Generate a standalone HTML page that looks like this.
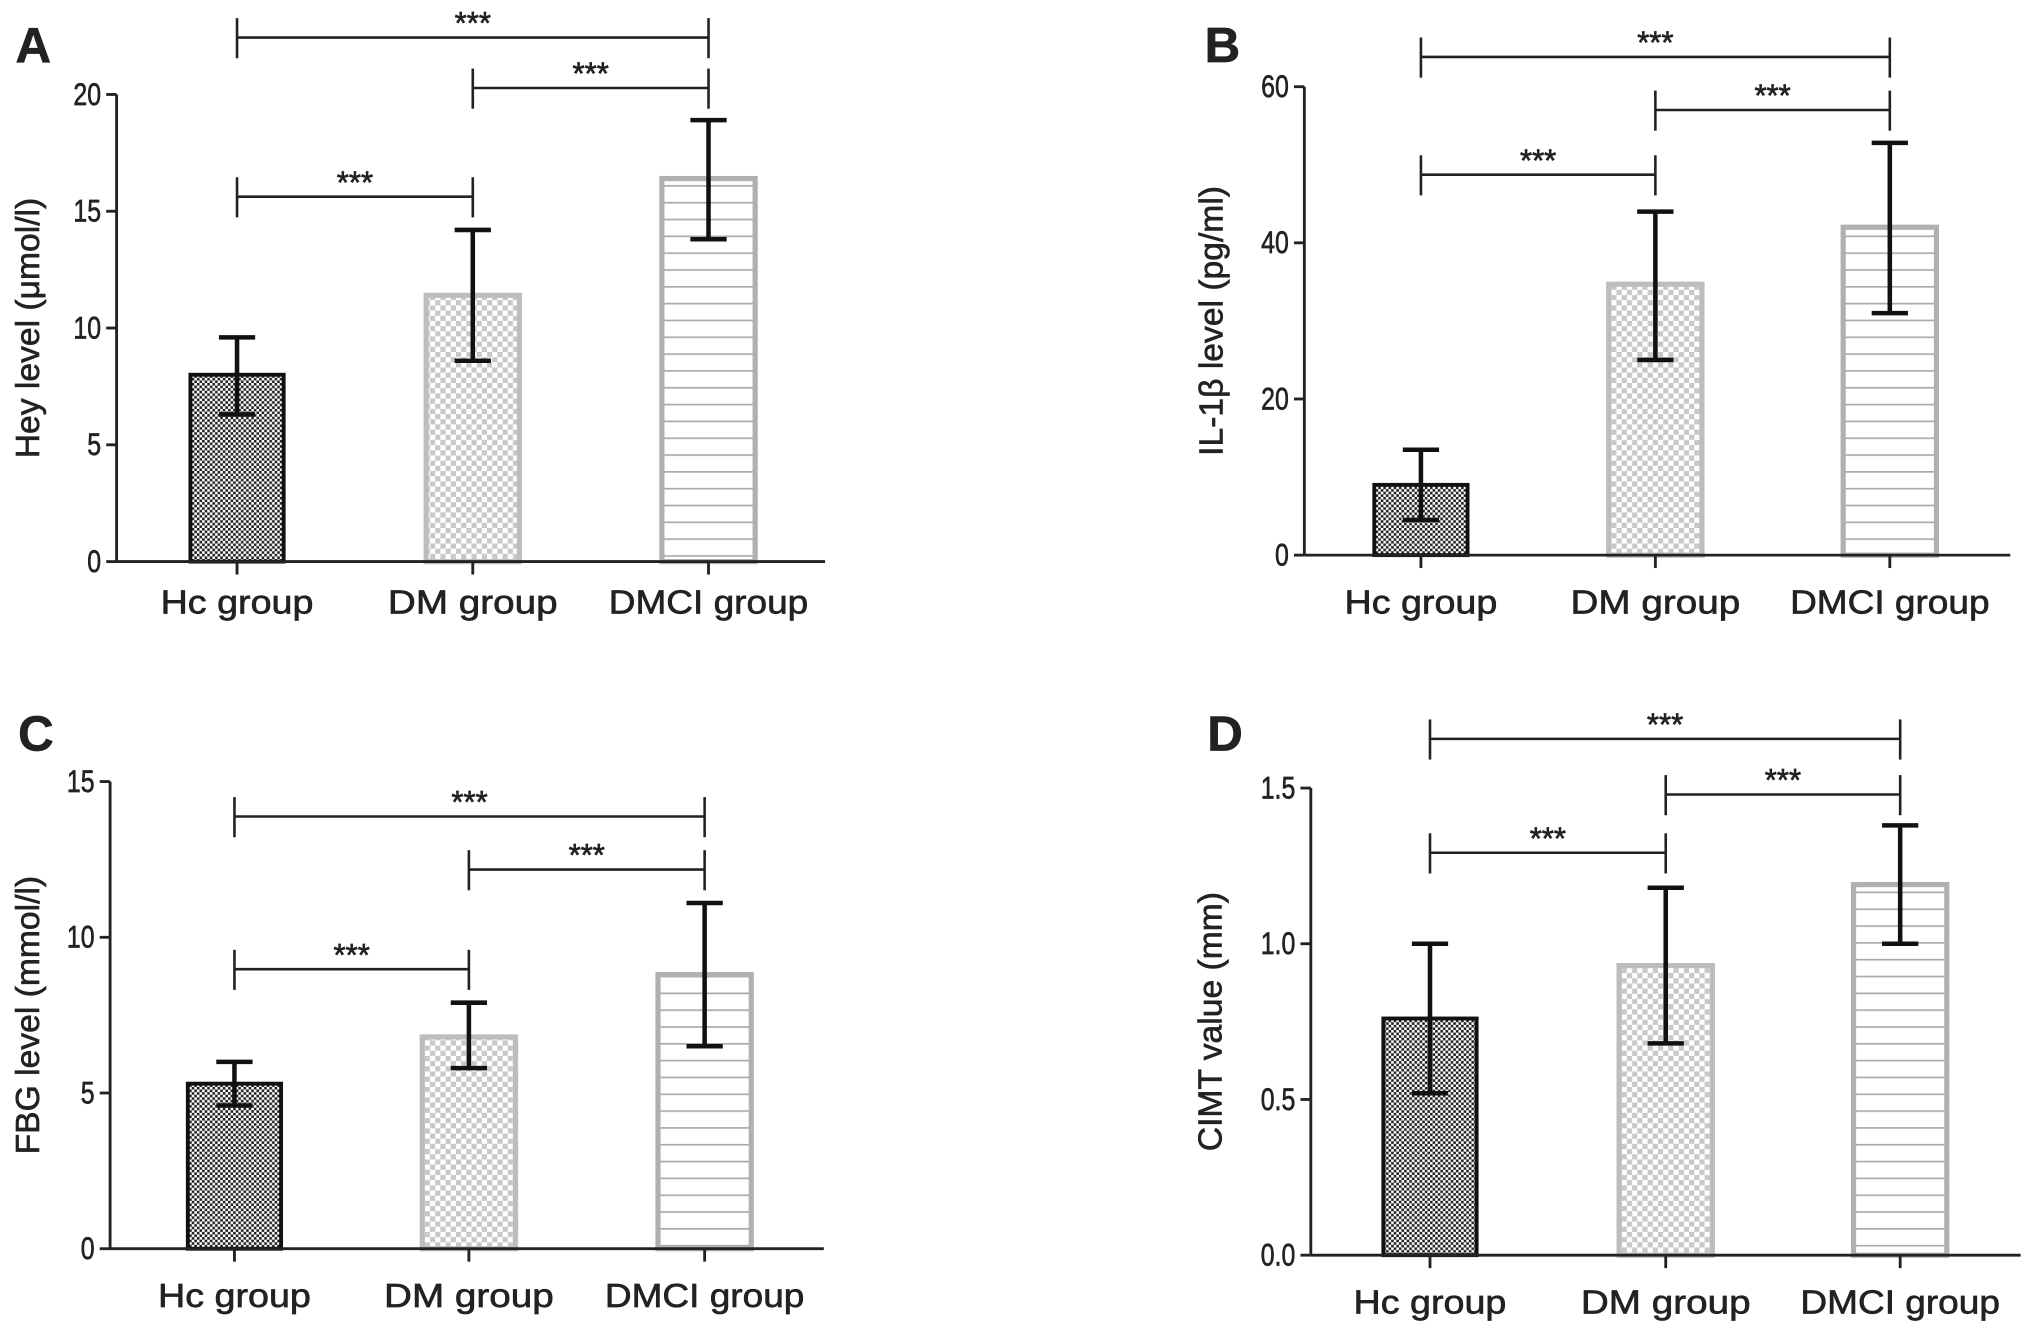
<!DOCTYPE html>
<html><head><meta charset="utf-8"><style>
html,body{margin:0;padding:0;background:#fff;}
svg{display:block;}
text{font-family:"Liberation Sans",sans-serif;fill:#222;stroke:#222;stroke-width:0.5;}
</style></head><body>
<svg id="fig" width="2031" height="1338" viewBox="0 0 1568 1034" preserveAspectRatio="none" xmlns="http://www.w3.org/2000/svg">
<defs>
<pattern id="pDark" width="4" height="4" patternUnits="userSpaceOnUse"><rect width="4" height="4" fill="#fff"/><rect width="2" height="2" fill="#222"/><rect x="2" y="2" width="2" height="2" fill="#222"/></pattern>
<pattern id="pLight" width="8" height="8" patternUnits="userSpaceOnUse"><rect width="8" height="8" fill="#fff"/><rect width="4" height="4" fill="#c8c8c8"/><rect x="4" y="4" width="4" height="4" fill="#c8c8c8"/></pattern>
<pattern id="pLines" width="10" height="13" patternUnits="userSpaceOnUse"><rect width="10" height="13" fill="#fff"/><rect y="0" width="10" height="1.3" fill="#aaa"/></pattern>
</defs>
</svg>
<script>
const categories = ["Hc group","DM group","DMCI group"];
const meanA = [8.0, 11.4, 16.4];
const lowA = [6.3, 8.6, 13.8];
const highA = [9.6, 14.2, 18.9];
const ticksA = [0,5,10,15,20];
const meanB = [9.0, 34.7, 42.0];
const lowB = [4.5, 25.0, 31.0];
const highB = [13.5, 44.0, 52.8];
const ticksB = [0,20,40,60];
const meanC = [5.3, 6.8, 8.8];
const lowC = [4.6, 5.8, 6.5];
const highC = [6.0, 7.9, 11.1];
const ticksC = [0,5,10,15];
const meanD = [0.76, 0.93, 1.19];
const lowD = [0.52, 0.68, 1.00];
const highD = [1.00, 1.18, 1.38];
const ticksD = ["0.0","0.5","1.0","1.5"];

const NS="http://www.w3.org/2000/svg";
const svg=document.getElementById('fig');
function mk(tag,attrs,parent){const e=document.createElementNS(NS,tag);for(const k in attrs)e.setAttribute(k,attrs[k]);(parent||svg).appendChild(e);return e;}

const panels=[
 {id:'a',letter:'A',lx:12,ly:48,ax:90,y0:434,yTop:73,max:20,xEnd:637,cx:[183,365,547],mean:meanA,low:lowA,high:highA,ticks:ticksA,title:'Hey level (\u03bcmol/l)',tx:30,labY:474,
  br:[[0,1,152],[1,2,68],[0,2,29]]},
 {id:'b',letter:'B',lx:930,ly:48,ax:1007,y0:429,yTop:67,max:60,xEnd:1552,cx:[1097,1278,1459],mean:meanB,low:lowB,high:highB,ticks:ticksB,title:'IL-1\u03b2 level (pg/ml)',tx:944,labY:474,
  br:[[0,1,135],[1,2,85],[0,2,44]]},
 {id:'c',letter:'C',lx:14,ly:580,ax:85,y0:965,yTop:604,max:15,xEnd:636,cx:[181,362,544],mean:meanC,low:lowC,high:highC,ticks:ticksC,title:'FBG level (mmol/l)',tx:30,labY:1010,
  br:[[0,1,749],[1,2,672],[0,2,631]]},
 {id:'d',letter:'D',lx:932,ly:580,ax:1012,y0:970,yTop:609,max:1.5,xEnd:1560,cx:[1104,1286,1467],mean:meanD,low:lowD,high:highD,ticks:ticksD,title:'CIMT value (mm)',tx:943,labY:1015,
  br:[[0,1,659],[1,2,614],[0,2,571]]}
];
const fills=['url(#pDark)','url(#pLight)','url(#pLines)'];
const strokes=['#111','#bdbdbd','#b0b0b0'];
const labW=[118,131,154];

panels.forEach(p=>{
  const g=mk('g',{});
  
  
  const ys=v=>p.y0-(v/p.max)*(p.y0-p.yTop);
  const L=mk('text',{x:p.lx,y:p.ly,'font-size':38,'font-weight':'bold'},g);
  L.textContent=p.letter;
  
  
  p.mean.forEach((m,i)=>{
    const w=72,x=p.cx[i]-w/2,y=ys(m);
    const r=mk('rect',{x:x,y:y,width:w,height:p.y0-y,fill:fills[i],stroke:strokes[i],'stroke-width':i==0?3:4},g);
    
    
  });
  p.mean.forEach((m,i)=>{
    const c=p.cx[i];
    const e=mk('g',{stroke:'#111','stroke-width':3.5,fill:'none'},g);
    
    
    mk('line',{x1:c,x2:c,y1:ys(p.low[i]),y2:ys(p.high[i])},e);
    mk('line',{x1:c-14,x2:c+14,y1:ys(p.high[i]),y2:ys(p.high[i])},e);
    mk('line',{x1:c-14,x2:c+14,y1:ys(p.low[i]),y2:ys(p.low[i])},e);
  });
  const ax=mk('g',{stroke:'#222','stroke-width':2.2},g);
  
  
  mk('line',{x1:p.ax,x2:p.ax,y1:p.yTop,y2:p.y0},ax);
  mk('line',{x1:p.ax,x2:p.xEnd,y1:p.y0,y2:p.y0},ax);
  p.ticks.forEach(t=>{
    const y=ys(parseFloat(t));
    mk('line',{x1:p.ax-8,x2:p.ax,y1:y,y2:y},ax);
    const tt=mk('text',{x:0,y:0,'font-size':24,'text-anchor':'end',transform:'translate('+(p.ax-12)+' '+(y+8)+') scale(0.8 1)'},g);
    tt.textContent=t;
    
    
  });
  categories.forEach((c,i)=>{
    mk('line',{x1:p.cx[i],x2:p.cx[i],y1:p.y0,y2:p.y0+10},ax);
    const t=mk('text',{x:p.cx[i]-labW[i]/2,y:p.labY,'font-size':26,textLength:labW[i],lengthAdjust:'spacingAndGlyphs'},g);
    t.textContent=c;
    
    
  });
  const ym=(p.y0+p.yTop)/2;
  const yt=mk('text',{x:p.tx,y:ym,'font-size':26,'text-anchor':'middle',transform:'rotate(-90 '+p.tx+' '+ym+')'},g);
  yt.textContent=p.title;
  
  
  p.br.forEach(b=>{
    const x1=p.cx[b[0]],x2=p.cx[b[1]],y=b[2];
    const s=mk('g',{stroke:'#222','stroke-width':2},g);
    
    
    mk('line',{x1:x1,x2:x2,y1:y,y2:y},s);
    mk('line',{x1:x1,x2:x1,y1:y-15,y2:y+16},s);
    mk('line',{x1:x2,x2:x2,y1:y-15,y2:y+16},s);
    const st=mk('text',{x:(x1+x2)/2,y:y-3,'font-size':24,'text-anchor':'middle','stroke-width':0.3},g);
    st.textContent='***';
    
    
  });
});
</script>
</body></html>
